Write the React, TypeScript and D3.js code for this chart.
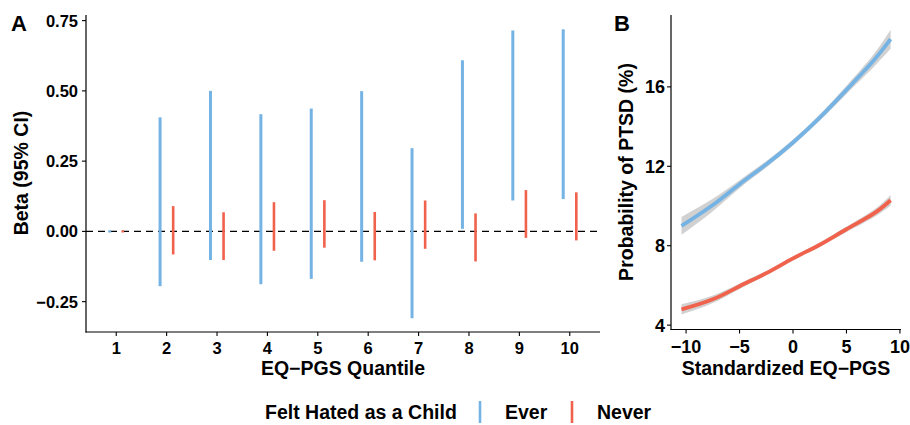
import React from 'react';
import * as d3 from 'd3';

// Panel A: betas (95% CI) by EQ-PGS quantile
const quantiles = ['1', '2', '3', '4', '5', '6', '7', '8', '9', '10'];
const everLow = [-0.004, -0.195, -0.102, -0.188, -0.169, -0.108, -0.309, 0.009, 0.110, 0.115];
const everHigh = [0.004, 0.406, 0.500, 0.417, 0.437, 0.499, 0.296, 0.609, 0.715, 0.719];
const neverLow = [-0.004, -0.082, -0.102, -0.069, -0.058, -0.103, -0.062, -0.107, -0.023, -0.032];
const neverHigh = [0.004, 0.090, 0.068, 0.104, 0.111, 0.069, 0.110, 0.064, 0.147, 0.139];
const betaTicks = [-0.25, 0, 0.25, 0.5, 0.75];

// Panel B: predicted probability of PTSD (%)
const pgs = [-10.43, -7.5, -5, -2.5, 0, 2.5, 5, 7.5, 9.13];
const everFit = [9.0, 10.05, 11.1, 12.1, 13.2, 14.45, 15.85, 17.3, 18.4];
const everLo = [8.55, 9.74, 10.9, 11.94, 13.05, 14.29, 15.64, 16.98, 17.92];
const everHi = [9.45, 10.36, 11.3, 12.26, 13.35, 14.61, 16.06, 17.62, 18.88];
const neverFit = [4.79, 5.3, 5.96, 6.62, 7.36, 8.05, 8.83, 9.6, 10.29];
const neverLo = [4.53, 5.11, 5.82, 6.51, 7.26, 7.94, 8.69, 9.41, 10.02];
const neverHi = [5.05, 5.49, 6.1, 6.73, 7.46, 8.16, 8.97, 9.79, 10.56];
const probTicks = [4, 8, 12, 16];
const pgsTicks = [-10, -5, 0, 5, 10];

const BLUE = '#74b3e3';
const RED = '#f0624c';
const FONT = '"Liberation Sans", Arial, sans-serif';

const minus = (s: string) => s.replace('-', '\u2212');

const App = () => {
  // panel A scales
  const xA = d3.scaleLinear().domain([0.4, 10.6]).range([86, 600]);
  const yA = d3.scaleLinear().domain([-0.358, 0.77]).range([332, 15]);
  const dodge = 0.13;

  // panel B scales
  const xB = d3.scaleLinear().domain([-11.41, 10.1]).range([671, 901]);
  const yB = d3.scaleLinear().domain([3.78, 19.62]).range([329.5, 15]);

  const line = (ys: number[]) =>
    d3.line<number>()
      .x((d, i) => xB(pgs[i]))
      .y(d => yB(d))
      .curve(d3.curveNatural)(ys) || '';
  const band = (lo: number[], hi: number[]) =>
    d3.area<number>()
      .x((d, i) => xB(pgs[i]))
      .y0((d, i) => yB(lo[i]))
      .y1(d => yB(d))
      .curve(d3.curveNatural)(hi) || '';

  return (
    <div style={{ position: 'absolute', left: 0, top: 0 }}>
      <svg width={910} height={425} style={{ display: 'block', fontFamily: FONT, fontWeight: 'bold' }}>
        <rect width={910} height={425} fill="white" />

        {/* Panel A */}
        <text x={11} y={31} fontSize={22}>A</text>
        <line x1={xA(0.4)} x2={xA(10.6)} y1={yA(0)} y2={yA(0)} stroke="black" strokeWidth={1.4} strokeDasharray="7,5" />
        {quantiles.map((q, i) => (
          <g key={q}>
            <line x1={xA(i + 1 - dodge)} x2={xA(i + 1 - dodge)} y1={yA(everLow[i])} y2={yA(everHigh[i])} stroke={BLUE} strokeWidth={3} />
            <line x1={xA(i + 1 + dodge)} x2={xA(i + 1 + dodge)} y1={yA(neverLow[i])} y2={yA(neverHigh[i])} stroke={RED} strokeWidth={2.6} />
          </g>
        ))}
        <line x1={86} x2={86} y1={15} y2={332.5} stroke="black" strokeWidth={1.2} />
        <line x1={85.5} x2={600} y1={332} y2={332} stroke="black" strokeWidth={1.2} />
        {betaTicks.map(t => (
          <g key={t}>
            <line x1={82} x2={86} y1={yA(t)} y2={yA(t)} stroke="black" strokeWidth={1.1} />
            <text x={78} y={yA(t) + 6} fontSize={16.5} textAnchor="end">{minus(d3.format('.2f')(t))}</text>
          </g>
        ))}
        {quantiles.map((q, i) => (
          <g key={q}>
            <line x1={xA(i + 1)} x2={xA(i + 1)} y1={332} y2={336} stroke="black" strokeWidth={1.1} />
            <text x={xA(i + 1)} y={353.5} fontSize={16.5} textAnchor="middle">{q}</text>
          </g>
        ))}
        <text x={343} y={375} fontSize={19.5} textAnchor="middle">EQ−PGS Quantile</text>
        <text transform="translate(28,173) rotate(-90)" fontSize={19.5} textAnchor="middle">Beta (95% CI)</text>

        {/* Panel B */}
        <text x={614} y={31} fontSize={22}>B</text>
        <path d={band(everLo, everHi)} fill="#999999" opacity={0.45} />
        <path d={band(neverLo, neverHi)} fill="#999999" opacity={0.45} />
        <path d={line(everFit)} fill="none" stroke={BLUE} strokeWidth={3.8} />
        <path d={line(neverFit)} fill="none" stroke={RED} strokeWidth={3.8} />
        <line x1={671} x2={671} y1={15} y2={330} stroke="black" strokeWidth={1.2} />
        <line x1={670.5} x2={901} y1={329.5} y2={329.5} stroke="black" strokeWidth={1.2} />
        {probTicks.map(t => (
          <g key={t}>
            <line x1={667} x2={671} y1={yB(t)} y2={yB(t)} stroke="black" strokeWidth={1.1} />
            <text x={665} y={yB(t) + 6.5} fontSize={18} textAnchor="end">{t}</text>
          </g>
        ))}
        {pgsTicks.map(t => (
          <g key={t}>
            <line x1={xB(t)} x2={xB(t)} y1={329.5} y2={333.5} stroke="black" strokeWidth={1.1} />
            <text x={xB(t)} y={352.5} fontSize={18} textAnchor="middle">{minus(String(t))}</text>
          </g>
        ))}
        <text x={786} y={375} fontSize={19.5} textAnchor="middle">Standardized EQ−PGS</text>
        <text transform="translate(633,172) rotate(-90)" fontSize={19.5} textAnchor="middle">Probability of PTSD (%)</text>

        {/* Legend */}
        <text x={265} y={419} fontSize={19.5}>Felt Hated as a Child</text>
        <line x1={480} x2={480} y1={401} y2={423} stroke={BLUE} strokeWidth={2.6} />
        <text x={505} y={419} fontSize={19.5}>Ever</text>
        <line x1={572} x2={572} y1={401} y2={423} stroke={RED} strokeWidth={2.6} />
        <text x={597} y={419} fontSize={19.5}>Never</text>
      </svg>
    </div>
  );
};

export default App;
